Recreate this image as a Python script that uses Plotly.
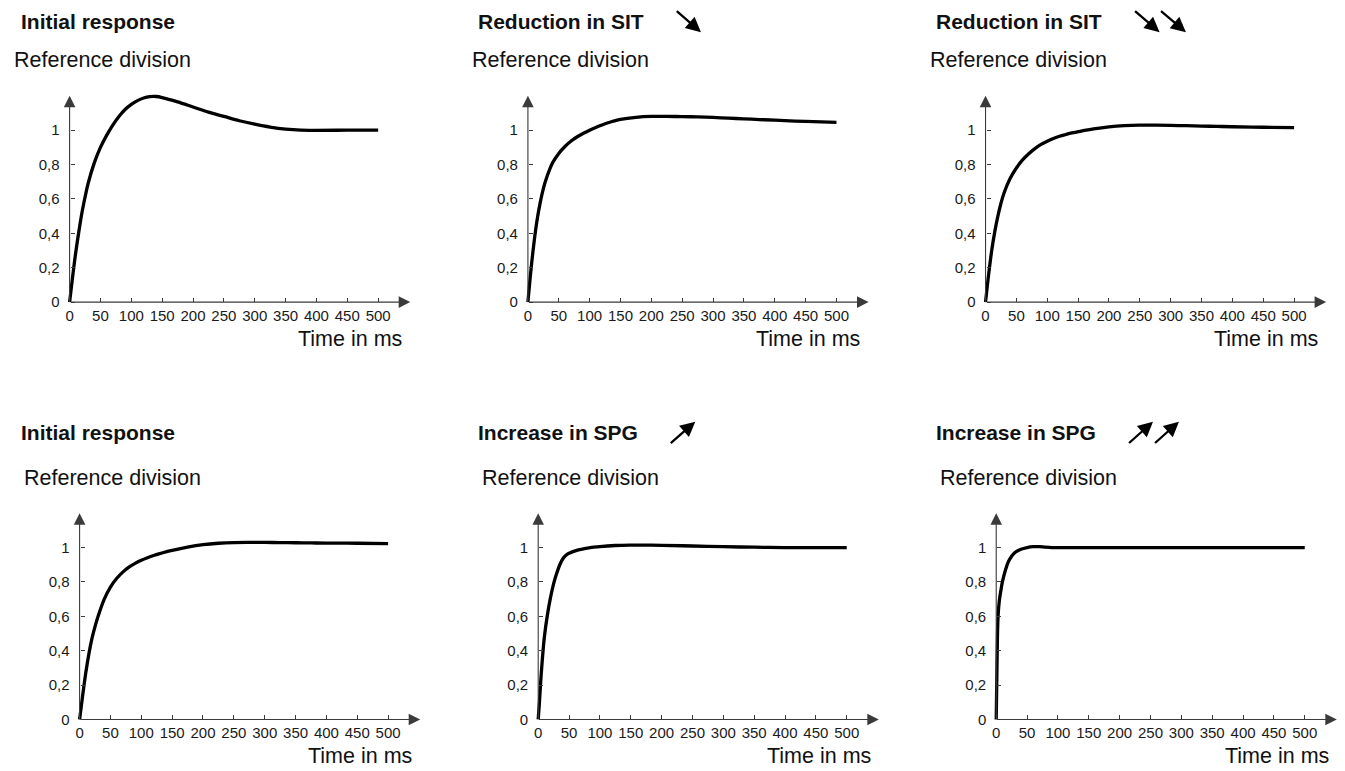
import plotly.graph_objects as go

# ---------------- data ----------------
t_a = [0, 5, 10, 15, 20, 25, 30, 40, 50, 60, 70, 80, 90, 100, 110, 120, 130, 140, 150,
       175, 200, 225, 250, 275, 300, 325, 350, 375, 400, 450, 500]
y_initial_1 = [0, 0.15, 0.29, 0.41, 0.52, 0.61, 0.69, 0.81, 0.9, 0.97, 1.03, 1.08, 1.12, 1.15,
               1.172, 1.187, 1.195, 1.196, 1.19, 1.165, 1.135, 1.105, 1.08, 1.055, 1.035, 1.018,
               1.006, 1.0, 0.999, 1.0, 1.0]
y_sit_1 = [0, 0.19, 0.35, 0.48, 0.58, 0.66, 0.72, 0.81, 0.865, 0.905, 0.937, 0.962, 0.982, 1.0,
           1.016, 1.03, 1.043, 1.054, 1.063, 1.075, 1.08, 1.08, 1.079, 1.077, 1.074, 1.07,
           1.066, 1.062, 1.058, 1.051, 1.046]
y_sit_2 = [0, 0.16, 0.3, 0.41, 0.5, 0.575, 0.635, 0.72, 0.78, 0.827, 0.863, 0.893, 0.917, 0.936,
           0.952, 0.965, 0.975, 0.984, 0.991, 1.007, 1.019, 1.026, 1.029, 1.029, 1.028, 1.026,
           1.024, 1.022, 1.02, 1.017, 1.015]
y_initial_2 = [0, 0.14, 0.27, 0.38, 0.47, 0.54, 0.6, 0.7, 0.77, 0.82, 0.857, 0.886, 0.908, 0.926,
               0.941, 0.954, 0.965, 0.975, 0.984, 1.003, 1.017, 1.025, 1.029, 1.03, 1.03, 1.029,
               1.028, 1.027, 1.026, 1.025, 1.023]
t_spg_1 = [0, 2, 5, 10, 15, 20, 25, 30, 35, 40, 45, 50, 60, 70, 80, 90, 100, 125, 150, 175,
           200, 250, 300, 350, 400, 450, 500]
y_spg_1 = [0, 0.1, 0.27, 0.48, 0.61, 0.71, 0.79, 0.85, 0.9, 0.935, 0.955, 0.967, 0.981, 0.99,
           0.997, 1.002, 1.006, 1.012, 1.014, 1.014, 1.013, 1.009, 1.005, 1.002, 1.0, 1.0, 1.0]
t_spg_2 = [0, 1, 2, 3, 5, 8, 10, 15, 20, 25, 30, 40, 50, 60, 70, 80, 90, 100, 150, 200, 300,
           400, 500]
y_spg_2 = [0, 0.25, 0.48, 0.6, 0.69, 0.76, 0.8, 0.87, 0.92, 0.95, 0.97, 0.99, 1.0, 1.005, 1.005,
           1.002, 1.0, 1.0, 1.0, 1.0, 1.0, 1.0, 1.0]

panel_titles = ["Initial response", "Reduction in SIT", "Reduction in SIT",
                "Initial response", "Increase in SPG", "Increase in SPG"]
y_label = "Reference division"
x_label = "Time in ms"
x_ticks = [0, 50, 100, 150, 200, 250, 300, 350, 400, 450, 500]
y_ticks = [0, 0.2, 0.4, 0.6, 0.8, 1]
y_ticktext = ["0", "0,2", "0,4", "0,6", "0,8", "1"]
series = [(t_a, y_initial_1), (t_a, y_sit_1), (t_a, y_sit_2),
          (t_a, y_initial_2), (t_spg_1, y_spg_1), (t_spg_2, y_spg_2)]

# ---------------- layout geometry (pixels) ----------------
W, H = 1345, 771
PX_MS = 0.618
PX_UNIT = 172.6
XR = [-4, 556]
YR = [-0.03, 1.23]
X_AXIS_END = 552
Y_AXIS_END = 1.2
origins = [(67.7, 303.3), (526.7, 303.3), (985.0, 303.3),
           (77.7, 722.3), (537.0, 722.3), (995.7, 722.3)]
title_pos = [(17, 22), (475, 22), (933.5, 22), (17, 434), (475, 434), (933.5, 434)]
ylab_pos = [(10, 60.5), (468.5, 60.5), (927, 60.5), (20, 479.5), (478.5, 479.5), (937.5, 479.5)]
xlab_pos = [(403, 340), (861, 340), (1320, 340), (413, 758.5), (872.5, 758.5), (1331, 758.5)]
title_arrows = [((674.3, 10), (700, 32.3)),
                ((1133.3, 10), (1159.3, 32.3)), ((1159.3, 10), (1185.7, 32.3)),
                ((668.3, 446), (694.3, 423.3)),
                ((1127.3, 446), (1152.7, 423.3)), ((1153.3, 446), (1178.7, 423.3))]

FONT = "Liberation Sans, Arial, Helvetica, sans-serif"
AXC = "#3a3a3a"


def px_x(p):
    return p / W


def px_y(p):
    return 1 - p / H


fig = go.Figure()
annotations = []
layout = dict(width=W, height=H, margin=dict(l=0, r=0, t=0, b=0),
              paper_bgcolor="white", plot_bgcolor="white", showlegend=False,
              font=dict(family=FONT, color="#1a1a1a"))

for i, ((ox, oy), (tx, ty)) in enumerate(zip(origins, series)):
    n = i + 1
    xa = "x" if n == 1 else f"x{n}"
    ya = "y" if n == 1 else f"y{n}"
    xkey = "xaxis" if n == 1 else f"xaxis{n}"
    ykey = "yaxis" if n == 1 else f"yaxis{n}"
    left = ox + XR[0] * PX_MS
    right = ox + XR[1] * PX_MS
    bottom = oy - YR[0] * PX_UNIT
    top = oy - YR[1] * PX_UNIT
    fig.add_trace(go.Scatter(x=tx, y=ty, mode="lines", xaxis=xa, yaxis=ya,
                             line=dict(color="black", width=3.3, shape="spline", smoothing=1.0),
                             hoverinfo="skip"))
    layout[xkey] = dict(domain=[px_x(left), px_x(right)], range=XR, anchor="free",
                        position=px_y(oy), tickvals=x_ticks, ticks="inside", ticklen=4,
                        tickcolor=AXC, tickwidth=1, showgrid=False, zeroline=False,
                        showline=False, ticklabelstandoff=3,
                        tickfont=dict(size=15, color="#1a1a1a", family=FONT),
                        fixedrange=True)
    layout[ykey] = dict(domain=[px_y(bottom), px_y(top)], range=YR, anchor="free",
                        position=px_x(ox), tickvals=y_ticks, ticktext=y_ticktext,
                        ticks="inside", ticklen=4, tickcolor=AXC, tickwidth=1,
                        showgrid=False, zeroline=False, showline=False, ticklabelstandoff=10,
                        tickfont=dict(size=15, color="#1a1a1a", family=FONT),
                        fixedrange=True)
    # axis lines with arrowheads
    annotations.append(dict(x=X_AXIS_END, y=0, ax=0, ay=0, xref=xa, yref=ya, axref=xa, ayref=ya,
                            text="", showarrow=True, arrowhead=2, arrowsize=2.1, arrowwidth=1.1,
                            arrowcolor=AXC, standoff=0))
    annotations.append(dict(x=0, y=Y_AXIS_END, ax=0, ay=0, xref=xa, yref=ya, axref=xa, ayref=ya,
                            text="", showarrow=True, arrowhead=2, arrowsize=2.1, arrowwidth=1.1,
                            arrowcolor=AXC, standoff=0))
    # texts
    annotations.append(dict(x=px_x(title_pos[i][0]), y=px_y(title_pos[i][1]), xref="paper",
                            yref="paper", xanchor="left", yanchor="middle", showarrow=False,
                            text="<b>" + panel_titles[i] + "</b>",
                            font=dict(size=21, color="#111111", family=FONT)))
    annotations.append(dict(x=px_x(ylab_pos[i][0]), y=px_y(ylab_pos[i][1]), xref="paper",
                            yref="paper", xanchor="left", yanchor="middle", showarrow=False,
                            text=y_label, font=dict(size=21.5, color="#111111", family=FONT)))
    annotations.append(dict(x=px_x(xlab_pos[i][0]), y=px_y(xlab_pos[i][1]), xref="paper",
                            yref="paper", xanchor="right", yanchor="middle", showarrow=False,
                            text=x_label, font=dict(size=21.5, color="#111111", family=FONT)))

for (tail, tip) in title_arrows:
    annotations.append(dict(x=px_x(tip[0]), y=px_y(tip[1]), xref="paper", yref="paper",
                            ax=tail[0] - tip[0], ay=tail[1] - tip[1], text="", showarrow=True,
                            arrowhead=2, arrowsize=1.3, arrowwidth=2.3, arrowcolor="black",
                            standoff=0))

layout["annotations"] = annotations
fig.update_layout(**layout)
fig.write_html("out.html", config={"displayModeBar": False},
               post_script="document.body.style.margin='0';document.body.style.overflow='hidden';")
